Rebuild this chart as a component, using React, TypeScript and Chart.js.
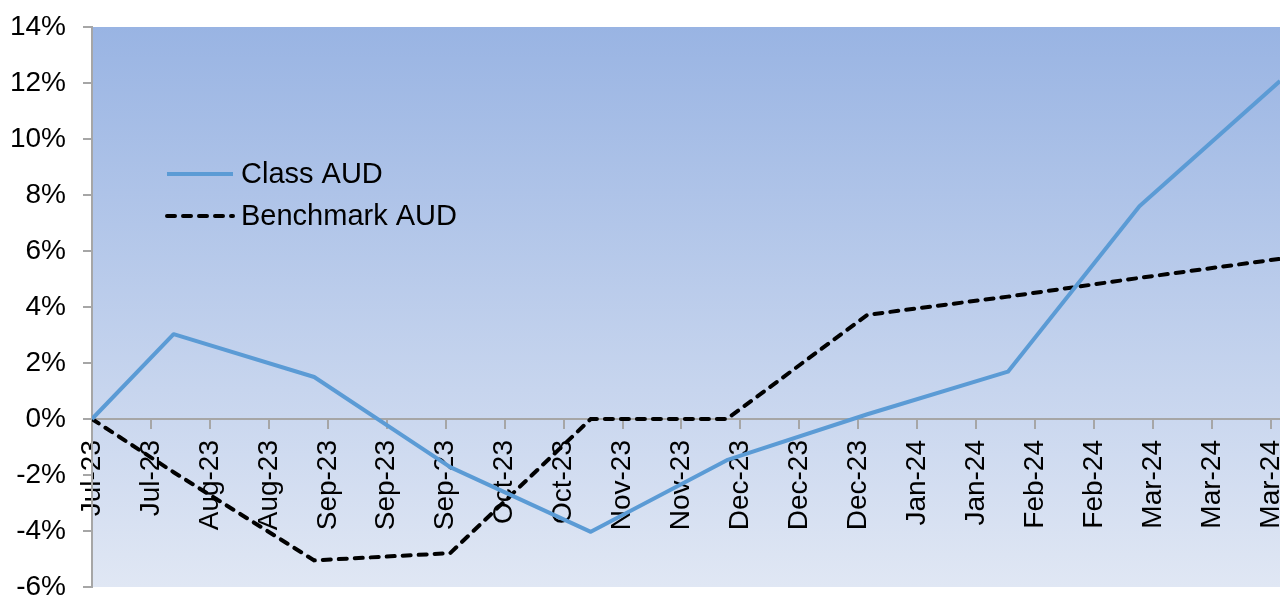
import React, { useEffect, useRef } from "react";
import { Chart, registerables } from "chart.js";

Chart.register(...registerables);

// ---- data ----
const startDate = "2023-07-13";
const endDate = "2024-03-31";
const tickStepDays = 13;
const pointDates = [
  "2023-07-13",
  "2023-07-31",
  "2023-08-31",
  "2023-09-30",
  "2023-10-31",
  "2023-11-30",
  "2023-12-31",
  "2024-01-31",
  "2024-02-29",
  "2024-03-31",
];
const classAUD = [0, 3.03, 1.5, -1.72, -4.03, -1.47, 0.17, 1.69, 7.6, 12.07];
const benchmarkAUD = [0, -1.9, -5.05, -4.79, 0, 0, 3.72, 4.37, 5.04, 5.72];
const tickLabels = [
  "Jul-23", "Jul-23", "Aug-23", "Aug-23", "Sep-23", "Sep-23", "Sep-23",
  "Oct-23", "Oct-23", "Nov-23", "Nov-23", "Dec-23", "Dec-23", "Dec-23",
  "Jan-24", "Jan-24", "Feb-24", "Feb-24", "Mar-24", "Mar-24", "Mar-24",
];
const seriesNames = ["Class AUD", "Benchmark AUD"];
const yMin = -6;
const yMax = 14;
const yStep = 2;

const dayIndex = (d: string) =>
  Math.round((Date.parse(d) - Date.parse(startDate)) / 86400000);

const FONT = '"Liberation Sans", Arial, sans-serif';

const bgPlugin = {
  id: "plotBg",
  beforeDraw(chart: any) {
    const { ctx, chartArea } = chart;
    if (!chartArea) return;
    const g = ctx.createLinearGradient(0, chartArea.top, 0, chartArea.bottom);
    g.addColorStop(0, "#99b4e3");
    g.addColorStop(1, "#e0e7f4");
    ctx.save();
    ctx.fillStyle = g;
    ctx.fillRect(chartArea.left, chartArea.top, chartArea.right - chartArea.left, chartArea.bottom - chartArea.top);
    ctx.restore();
  },
};

const legendPlugin = {
  id: "insideLegend",
  afterDatasetsDraw(chart: any) {
    const ctx = chart.ctx;
    chart.data.datasets.forEach((ds: any, i: number) => {
      const y = 174 + i * 42;
      ctx.save();
      ctx.strokeStyle = ds.borderColor;
      ctx.lineWidth = ds.borderWidth;
      ctx.lineCap = ds.borderCapStyle || "butt";
      ctx.setLineDash(ds.borderDash || []);
      ctx.beginPath();
      ctx.moveTo(167, y);
      ctx.lineTo(233, y);
      ctx.stroke();
      ctx.setLineDash([]);
      ctx.fillStyle = "#000";
      ctx.font = `29px ${FONT}`;
      ctx.textBaseline = "middle";
      ctx.textAlign = "left";
      ctx.fillText(ds.label, 241, y + 1);
      ctx.restore();
    });
  },
};

export default function App() {
  const ref = useRef<HTMLCanvasElement | null>(null);

  useEffect(() => {
    if (!ref.current) return;
    const chart = new Chart(ref.current, {
      type: "line",
      data: {
        datasets: [
          {
            label: seriesNames[0],
            data: pointDates.map((d, i) => ({ x: dayIndex(d), y: classAUD[i] })),
            borderColor: "#5b9bd5",
            borderWidth: 4,
            pointRadius: 0,
            tension: 0,
            borderJoinStyle: "round",
          },
          {
            label: seriesNames[1],
            data: pointDates.map((d, i) => ({ x: dayIndex(d), y: benchmarkAUD[i] })),
            borderColor: "#000000",
            borderWidth: 4,
            borderDash: [8, 8],
            borderCapStyle: "round",
            pointRadius: 0,
            tension: 0,
          },
        ] as any,
      },
      options: {
        animation: false,
        responsive: false,
        maintainAspectRatio: false,
        layout: { padding: { left: 0, right: 0, top: 27, bottom: 10 } },
        plugins: {
          legend: { display: false },
          tooltip: { enabled: false },
        },
        scales: {
          x: {
            type: "linear",
            position: { y: 0 } as any,
            min: 0,
            max: dayIndex(endDate),
            afterBuildTicks: (axis: any) => {
              axis.ticks = tickLabels.map((_, i) => ({ value: i * tickStepDays }));
            },
            afterFit: (scale: any) => {
              scale.paddingLeft = 0;
              scale.paddingRight = 0;
            },
            ticks: {
              autoSkip: false,
              maxRotation: 90,
              minRotation: 90,
              padding: 12,
              color: "#000",
              font: { family: FONT, size: 28 },
              callback: (_v: any, i: number) => tickLabels[i],
            },
            grid: {
              display: true,
              drawOnChartArea: false,
              drawTicks: true,
              tickLength: 9,
              color: "#a6a6a6",
              lineWidth: 2,
            },
            border: { display: true, color: "#a6a6a6", width: 2 },
          },
          y: {
            min: yMin,
            max: yMax,
            afterFit: (scale: any) => {
              scale.width = 92;
              scale.paddingTop = 0;
              scale.paddingBottom = 0;
            },
            ticks: {
              stepSize: yStep,
              padding: 17,
              color: "#000",
              font: { family: FONT, size: 28 },
              callback: (v: any) => `${v}%`,
            },
            grid: {
              display: true,
              drawOnChartArea: false,
              drawTicks: true,
              tickLength: 9,
              color: "#a6a6a6",
              lineWidth: 2,
            },
            border: { display: true, color: "#a6a6a6", width: 2 },
          },
        },
      },
      plugins: [bgPlugin, legendPlugin],
    });
    return () => chart.destroy();
  }, []);

  return (
    <div
      style={{
        position: "fixed",
        left: 0,
        top: 0,
        width: 1280,
        height: 597,
        overflow: "hidden",
        background: "#fff",
      }}
    >
      <canvas ref={ref} width={1280} height={597} style={{ width: 1280, height: 597, display: "block" }} />
    </div>
  );
}
